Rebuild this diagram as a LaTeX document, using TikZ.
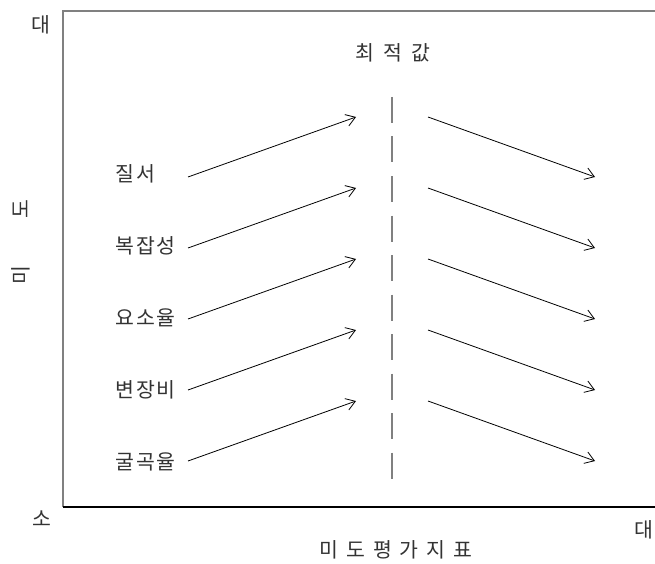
\documentclass[tikz,border=0pt]{standalone}
\usepackage{fontspec}
\newfontfamily\krfont{Noto Sans CJK KR}
\usetikzlibrary{arrows.meta}
\newcommand{\jgap}[1]{\kern#1pt}

\begin{document}
\begin{tikzpicture}[x=1pt,y=-1pt,
		lbl/.style={font=\krfont\fontsize{20.5}{20.5}\selectfont,text=black!80,inner sep=0pt},
		axisgray/.style={draw=black!50,line width=1.5pt},
		flow/.style={-{Straight Barb[length=9pt,width=12pt]},line width=0.8pt},
		optline/.style={draw=black!50,line width=1.5pt,dash pattern=on 26pt off 13.5pt}]
	\useasboundingbox (0,0) rectangle (655,564);
	
	% 틀 (오른쪽은 열림)
	\coordinate (tl) at (63,11);
	\coordinate (tr) at (655,11);
	\coordinate (bl) at (63,507);
	\coordinate (br) at (655,507);
	\draw[axisgray] (tr) -- (tl) -- (bl);
	\draw[line width=1.3pt] (bl) -- (br);
	
	% 축 이름
	\node[lbl] (ymax) at (41,25) {대};
	\node[lbl,rotate=90] (yname) at (21,242) {미\jgap{48}도};
	\node[lbl] (xmin) at (42,519) {소};
	\node[lbl] (xmax) at (644,530) {대};
	\node[lbl] (xname) at (396,550) {미\jgap{8}도\jgap{8}평\jgap{8}가\jgap{8}지\jgap{8}표};
	
	% 최적값 선
	\node[lbl] (opt) at (393,53) {최\jgap{9}적\jgap{9}값};
	\coordinate (otop) at (392,97);
	\coordinate (obot) at (392,479);
	\draw[optline] (otop) -- (obot);
	
	% 지표와 화살표
	\foreach \t [count=\i from 0] in {질\jgap{2}서,복\jgap{2}잡\jgap{2}성,요\jgap{2}소\jgap{2}율,변\jgap{2}장\jgap{2}비,굴\jgap{2}곡\jgap{2}율} {
		\node[lbl,anchor=west] (lab\i) at (115,174+72*\i) {\t};
		\coordinate (ls\i) at (188,177+71*\i);
		\coordinate (lt\i) at (356,117+71*\i);
		\coordinate (rs\i) at (428,117+71*\i);
		\coordinate (rt\i) at (595,177+71*\i);
		\draw[flow] (ls\i) -- (lt\i);
		\draw[flow] (rs\i) -- (rt\i);
	}
\end{tikzpicture}
\end{document}
